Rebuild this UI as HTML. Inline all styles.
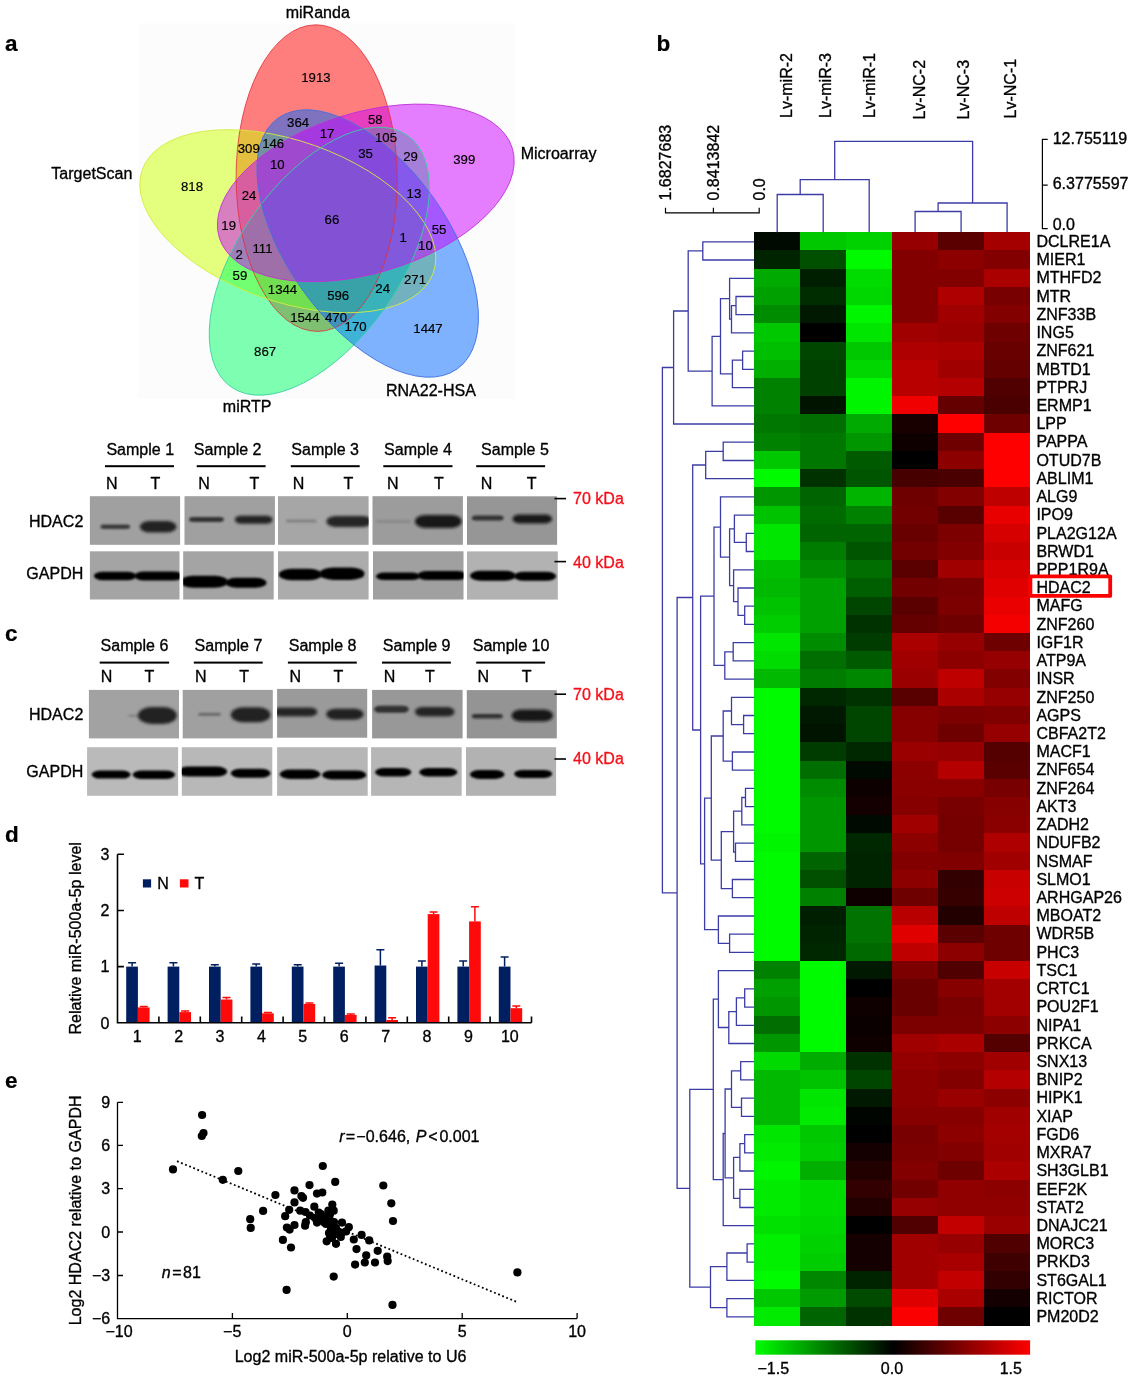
<!DOCTYPE html>
<html lang="en"><head><meta charset="utf-8"><title>Figure</title>
<style>
html,body{margin:0;padding:0;background:#fff;}
svg{display:block;font-family:"Liberation Sans", Arial, Helvetica, sans-serif;}
text{fill:#000;stroke:#000;stroke-width:0.33px;stroke-linejoin:round;}
.t16{font-size:16.05px;}
.t13{font-size:13.2px;stroke-width:0.18px;}
.pl{font-size:22.5px;font-weight:bold;stroke-width:0.2px;}
.red{fill:#f5101a;stroke:#f5101a;}
.den{fill:none;stroke:#3c3ca6;stroke-width:1.3;}
</style></head><body>
<svg width="1132" height="1382" viewBox="0 0 1132 1382">
<defs>
<filter id="b1" x="-20%" y="-60%" width="140%" height="220%"><feGaussianBlur stdDeviation="1.1"/></filter>
<filter id="b2" x="-20%" y="-60%" width="140%" height="220%"><feGaussianBlur stdDeviation="1.6"/></filter>
<linearGradient id="cbar" x1="0" y1="0" x2="1" y2="0"><stop offset="0" stop-color="#00ff00"/><stop offset="0.5" stop-color="#000000"/><stop offset="1" stop-color="#ff0000"/></linearGradient>
</defs>
<rect width="1132" height="1382" fill="#fff"/>

<text class="pl" x="5" y="50.7">a</text>
<text class="pl" x="656.5" y="50.5">b</text>
<text class="pl" x="5" y="641">c</text>
<text class="pl" x="5" y="842.2">d</text>
<text class="pl" x="5" y="1087.7">e</text>
<g id="venn">
<rect x="138" y="23.5" width="377" height="375" fill="#fcfcfc"/>
<ellipse cx="316.7" cy="178.1" rx="80.6" ry="153.3" transform="rotate(-0.37 316.7 178.1)" fill="#ff0000" fill-opacity="0.5" stroke="none"/>
<ellipse cx="287.8" cy="221.2" rx="80.3" ry="154.4" transform="rotate(289.47 287.8 221.2)" fill="#ccff00" fill-opacity="0.5" stroke="none"/>
<ellipse cx="319.3" cy="261.2" rx="80.6" ry="153.6" transform="rotate(215.01 319.3 261.2)" fill="#00ff66" fill-opacity="0.5" stroke="none"/>
<ellipse cx="367.7" cy="243.5" rx="80.1" ry="154.1" transform="rotate(144.45 367.7 243.5)" fill="#0066ff" fill-opacity="0.5" stroke="none"/>
<ellipse cx="365.8" cy="192.9" rx="80.3" ry="153.2" transform="rotate(73.09 365.8 192.9)" fill="#cc00ff" fill-opacity="0.5" stroke="none"/>
<ellipse cx="316.7" cy="178.1" rx="80.6" ry="153.3" transform="rotate(-0.37 316.7 178.1)" fill="none" stroke="#e0303c" stroke-width="0.9" stroke-opacity="0.9"/>
<ellipse cx="287.8" cy="221.2" rx="80.3" ry="154.4" transform="rotate(289.47 287.8 221.2)" fill="none" stroke="#d4ec40" stroke-width="0.9" stroke-opacity="0.9"/>
<ellipse cx="319.3" cy="261.2" rx="80.6" ry="153.6" transform="rotate(215.01 319.3 261.2)" fill="none" stroke="#38d0a0" stroke-width="0.9" stroke-opacity="0.9"/>
<ellipse cx="367.7" cy="243.5" rx="80.1" ry="154.1" transform="rotate(144.45 367.7 243.5)" fill="none" stroke="#4070e0" stroke-width="0.9" stroke-opacity="0.9"/>
<ellipse cx="365.8" cy="192.9" rx="80.3" ry="153.2" transform="rotate(73.09 365.8 192.9)" fill="none" stroke="#c030d8" stroke-width="0.9" stroke-opacity="0.9"/>
<text class="t13" text-anchor="middle" x="315.9" y="81.9">1913</text>
<text class="t13" text-anchor="middle" x="298.1" y="127.1">364</text>
<text class="t13" text-anchor="middle" x="375.3" y="124.2">58</text>
<text class="t13" text-anchor="middle" x="327.1" y="138.3">17</text>
<text class="t13" text-anchor="middle" x="386.0" y="142.0">105</text>
<text class="t13" text-anchor="middle" x="248.8" y="153.1">309</text>
<text class="t13" text-anchor="middle" x="273.2" y="147.6">146</text>
<text class="t13" text-anchor="middle" x="365.6" y="157.6">35</text>
<text class="t13" text-anchor="middle" x="410.5" y="160.5">29</text>
<text class="t13" text-anchor="middle" x="464.3" y="164.3">399</text>
<text class="t13" text-anchor="middle" x="277.3" y="169.1">10</text>
<text class="t13" text-anchor="middle" x="192.0" y="191.3">818</text>
<text class="t13" text-anchor="middle" x="249.1" y="199.5">24</text>
<text class="t13" text-anchor="middle" x="413.9" y="197.6">13</text>
<text class="t13" text-anchor="middle" x="331.9" y="224.4">66</text>
<text class="t13" text-anchor="middle" x="228.7" y="229.9">19</text>
<text class="t13" text-anchor="middle" x="439.1" y="233.6">55</text>
<text class="t13" text-anchor="middle" x="403.1" y="242.2">1</text>
<text class="t13" text-anchor="middle" x="425.4" y="250.3">10</text>
<text class="t13" text-anchor="middle" x="239.1" y="258.9">2</text>
<text class="t13" text-anchor="middle" x="262.5" y="253.3">111</text>
<text class="t13" text-anchor="middle" x="239.9" y="280.0">59</text>
<text class="t13" text-anchor="middle" x="415.0" y="283.7">271</text>
<text class="t13" text-anchor="middle" x="282.5" y="294.1">1344</text>
<text class="t13" text-anchor="middle" x="382.7" y="293.0">24</text>
<text class="t13" text-anchor="middle" x="338.2" y="299.7">596</text>
<text class="t13" text-anchor="middle" x="304.8" y="322.0">1544</text>
<text class="t13" text-anchor="middle" x="336.0" y="322.0">470</text>
<text class="t13" text-anchor="middle" x="355.6" y="330.5">170</text>
<text class="t13" text-anchor="middle" x="428.0" y="333.1">1447</text>
<text class="t13" text-anchor="middle" x="265.1" y="356.1">867</text>
<text class="t16" x="285.7" y="17.5">miRanda</text>
<text class="t16" x="520.7" y="158.6">Microarray</text>
<text class="t16" x="51.3" y="179">TargetScan</text>
<text class="t16" x="385.9" y="396.1">RNA22-HSA</text>
<text class="t16" x="222.8" y="411.9">miRTP</text>
</g>
<g id="blots">
<clipPath id="cp1"><rect x="89.9" y="496.2" width="90.2" height="48.6"/></clipPath>
<rect x="89.9" y="496.2" width="90.2" height="48.6" fill="rgb(160,160,160)"/>
<g clip-path="url(#cp1)">
<rect x="100.5" y="524.5" width="29.6" height="4.5" rx="3.6" ry="2.2" fill="#202020" fill-opacity="0.8" filter="url(#b1)"/>
<rect x="139.8" y="521.0" width="36.7" height="11.5" rx="9.2" ry="5.8" fill="#161616" fill-opacity="0.92" filter="url(#b2)"/>
</g>
<clipPath id="cp2"><rect x="184.5" y="496.2" width="90.4" height="48.6"/></clipPath>
<rect x="184.5" y="496.2" width="90.4" height="48.6" fill="rgb(160,160,160)"/>
<g clip-path="url(#cp2)">
<rect x="189.2" y="517.1" width="34.5" height="4.8" rx="3.8" ry="2.4" fill="#202020" fill-opacity="0.85" filter="url(#b1)"/>
<rect x="234.8" y="515.7" width="37.8" height="8.0" rx="6.4" ry="4.0" fill="#141414" fill-opacity="0.92" filter="url(#b2)"/>
</g>
<clipPath id="cp3"><rect x="278" y="496.2" width="90.6" height="48.6"/></clipPath>
<rect x="278" y="496.2" width="90.6" height="48.6" fill="rgb(166,166,166)"/>
<g clip-path="url(#cp3)">
<rect x="285.9" y="519.4" width="30.9" height="3.0" rx="2.5" ry="1.5" fill="#404040" fill-opacity="0.35" filter="url(#b1)"/>
<rect x="326.5" y="515.9" width="45.5" height="11.0" rx="8.8" ry="5.5" fill="#161616" fill-opacity="0.9" filter="url(#b2)"/>
</g>
<clipPath id="cp4"><rect x="372.5" y="496.2" width="90.4" height="48.6"/></clipPath>
<rect x="372.5" y="496.2" width="90.4" height="48.6" fill="rgb(156,156,156)"/>
<g clip-path="url(#cp4)">
<rect x="376.0" y="520.1" width="35.3" height="2.5" rx="2.5" ry="1.2" fill="#404040" fill-opacity="0.22" filter="url(#b1)"/>
<rect x="414.9" y="514.9" width="46.8" height="13.0" rx="10.4" ry="6.5" fill="#121212" fill-opacity="0.93" filter="url(#b2)"/>
</g>
<clipPath id="cp5"><rect x="467" y="496.3" width="90.1" height="48.5"/></clipPath>
<rect x="467" y="496.3" width="90.1" height="48.5" fill="rgb(150,150,150)"/>
<g clip-path="url(#cp5)">
<rect x="471.8" y="515.5" width="31.8" height="5.0" rx="4.0" ry="2.5" fill="#1c1c1c" fill-opacity="0.8" filter="url(#b1)"/>
<rect x="512.4" y="514.4" width="39.8" height="9.0" rx="7.2" ry="4.5" fill="#101010" fill-opacity="0.92" filter="url(#b2)"/>
</g>
<clipPath id="cp6"><rect x="89.9" y="551.3" width="89.6" height="48.2"/></clipPath>
<rect x="89.9" y="551.3" width="89.6" height="48.2" fill="rgb(164,164,164)"/>
<g clip-path="url(#cp6)">
<rect x="93.8" y="571.8" width="42.6" height="8.5" rx="9.4" ry="4.2" fill="#000" fill-opacity="1.0" filter="url(#b1)"/>
<rect x="134.4" y="571.5" width="48.6" height="9.0" rx="9.9" ry="4.5" fill="#000" fill-opacity="1.0" filter="url(#b1)"/>
</g>
<clipPath id="cp7"><rect x="183.2" y="551.3" width="90.5" height="48.2"/></clipPath>
<rect x="183.2" y="551.3" width="90.5" height="48.2" fill="rgb(164,164,164)"/>
<g clip-path="url(#cp7)">
<rect x="180.0" y="575.7" width="48.0" height="12.0" rx="13.2" ry="6.0" fill="#000" fill-opacity="1.0" filter="url(#b1)"/>
<rect x="225.5" y="577.8" width="41.1" height="10.0" rx="11.0" ry="5.0" fill="#000" fill-opacity="1.0" filter="url(#b1)"/>
</g>
<clipPath id="cp8"><rect x="278" y="551.3" width="90.6" height="48.2"/></clipPath>
<rect x="278" y="551.3" width="90.6" height="48.2" fill="rgb(172,172,172)"/>
<g clip-path="url(#cp8)">
<rect x="278.8" y="568.8" width="43.2" height="11.5" rx="12.7" ry="5.8" fill="#000" fill-opacity="1.0" filter="url(#b1)"/>
<rect x="319.5" y="567.4" width="45.0" height="12.5" rx="13.8" ry="6.2" fill="#000" fill-opacity="1.0" filter="url(#b1)"/>
</g>
<clipPath id="cp9"><rect x="373" y="551.3" width="90.5" height="48.2"/></clipPath>
<rect x="373" y="551.3" width="90.5" height="48.2" fill="rgb(160,160,160)"/>
<g clip-path="url(#cp9)">
<rect x="376.0" y="572.6" width="44.0" height="7.5" rx="8.2" ry="3.8" fill="#000" fill-opacity="1.0" filter="url(#b1)"/>
<rect x="417.5" y="571.0" width="49.5" height="9.0" rx="9.9" ry="4.5" fill="#000" fill-opacity="1.0" filter="url(#b1)"/>
</g>
<clipPath id="cp10"><rect x="467" y="551.4" width="90.8" height="48.2"/></clipPath>
<rect x="467" y="551.4" width="90.8" height="48.2" fill="rgb(178,178,178)"/>
<g clip-path="url(#cp10)">
<rect x="470.0" y="570.8" width="46.0" height="10.0" rx="11.0" ry="5.0" fill="#000" fill-opacity="1.0" filter="url(#b1)"/>
<rect x="514.0" y="571.8" width="42.1" height="9.0" rx="9.9" ry="4.5" fill="#000" fill-opacity="1.0" filter="url(#b1)"/>
</g>
<clipPath id="cp11"><rect x="88.9" y="689.9" width="90.1" height="48.5"/></clipPath>
<rect x="88.9" y="689.9" width="90.1" height="48.5" fill="rgb(162,162,162)"/>
<g clip-path="url(#cp11)">
<rect x="128.0" y="714.4" width="14.0" height="2.5" rx="2.5" ry="1.2" fill="#404040" fill-opacity="0.3" filter="url(#b1)"/>
<rect x="138.0" y="707.1" width="38.9" height="17.0" rx="13.6" ry="8.5" fill="#181818" fill-opacity="0.92" filter="url(#b2)"/>
</g>
<clipPath id="cp12"><rect x="182.7" y="689.9" width="90.1" height="48.5"/></clipPath>
<rect x="182.7" y="689.9" width="90.1" height="48.5" fill="rgb(160,160,160)"/>
<g clip-path="url(#cp12)">
<rect x="198.0" y="712.7" width="23.0" height="3.0" rx="2.5" ry="1.5" fill="#303030" fill-opacity="0.5" filter="url(#b1)"/>
<rect x="230.8" y="707.2" width="39.7" height="15.0" rx="12.0" ry="7.5" fill="#181818" fill-opacity="0.92" filter="url(#b2)"/>
</g>
<clipPath id="cp13"><rect x="277.1" y="688.9" width="90.1" height="48.8"/></clipPath>
<rect x="277.1" y="688.9" width="90.1" height="48.8" fill="rgb(154,154,154)"/>
<g clip-path="url(#cp13)">
<rect x="273.0" y="707.4" width="44.3" height="9.0" rx="7.2" ry="4.5" fill="#181818" fill-opacity="0.9" filter="url(#b2)"/>
<rect x="326.2" y="708.7" width="37.4" height="11.0" rx="8.8" ry="5.5" fill="#181818" fill-opacity="0.92" filter="url(#b2)"/>
</g>
<clipPath id="cp14"><rect x="372.1" y="689.9" width="90.5" height="48.5"/></clipPath>
<rect x="372.1" y="689.9" width="90.5" height="48.5" fill="rgb(152,152,152)"/>
<g clip-path="url(#cp14)">
<rect x="374.2" y="705.7" width="34.5" height="7.0" rx="5.6" ry="3.5" fill="#1c1c1c" fill-opacity="0.85" filter="url(#b1)"/>
<rect x="414.9" y="707.1" width="39.7" height="9.5" rx="7.6" ry="4.8" fill="#181818" fill-opacity="0.9" filter="url(#b2)"/>
</g>
<clipPath id="cp15"><rect x="466.8" y="690.1" width="90.0" height="48.3"/></clipPath>
<rect x="466.8" y="690.1" width="90.0" height="48.3" fill="rgb(148,148,148)"/>
<g clip-path="url(#cp15)">
<rect x="471.8" y="714.0" width="30.9" height="4.5" rx="3.6" ry="2.2" fill="#1c1c1c" fill-opacity="0.8" filter="url(#b1)"/>
<rect x="511.5" y="709.4" width="41.6" height="12.0" rx="9.6" ry="6.0" fill="#121212" fill-opacity="0.93" filter="url(#b2)"/>
</g>
<clipPath id="cp16"><rect x="87.1" y="747.2" width="91.0" height="48.6"/></clipPath>
<rect x="87.1" y="747.2" width="91.0" height="48.6" fill="rgb(186,186,186)"/>
<g clip-path="url(#cp16)">
<rect x="91.7" y="770.6" width="38.9" height="8.0" rx="8.8" ry="4.0" fill="#000" fill-opacity="1.0" filter="url(#b1)"/>
<rect x="132.7" y="770.4" width="42.4" height="8.5" rx="9.4" ry="4.2" fill="#000" fill-opacity="1.0" filter="url(#b1)"/>
</g>
<clipPath id="cp17"><rect x="181.8" y="747.2" width="90.5" height="48.6"/></clipPath>
<rect x="181.8" y="747.2" width="90.5" height="48.6" fill="rgb(184,184,184)"/>
<g clip-path="url(#cp17)">
<rect x="178.0" y="766.6" width="49.2" height="10.0" rx="11.0" ry="5.0" fill="#000" fill-opacity="1.0" filter="url(#b1)"/>
<rect x="230.8" y="768.8" width="39.7" height="9.0" rx="9.9" ry="4.5" fill="#000" fill-opacity="1.0" filter="url(#b1)"/>
</g>
<clipPath id="cp18"><rect x="277.1" y="747.2" width="90.6" height="48.6"/></clipPath>
<rect x="277.1" y="747.2" width="90.6" height="48.6" fill="rgb(182,182,182)"/>
<g clip-path="url(#cp18)">
<rect x="279.7" y="769.5" width="40.7" height="9.5" rx="10.5" ry="4.8" fill="#000" fill-opacity="1.0" filter="url(#b1)"/>
<rect x="322.1" y="770.4" width="44.2" height="9.0" rx="9.9" ry="4.5" fill="#000" fill-opacity="1.0" filter="url(#b1)"/>
</g>
<clipPath id="cp19"><rect x="371.1" y="747.2" width="90.6" height="48.6"/></clipPath>
<rect x="371.1" y="747.2" width="90.6" height="48.6" fill="rgb(182,182,182)"/>
<g clip-path="url(#cp19)">
<rect x="375.1" y="768.0" width="36.2" height="8.5" rx="9.4" ry="4.2" fill="#000" fill-opacity="1.0" filter="url(#b1)"/>
<rect x="419.3" y="768.0" width="38.0" height="8.5" rx="9.4" ry="4.2" fill="#000" fill-opacity="1.0" filter="url(#b1)"/>
</g>
<clipPath id="cp20"><rect x="466" y="747.2" width="90.1" height="48.6"/></clipPath>
<rect x="466" y="747.2" width="90.1" height="48.6" fill="rgb(178,178,178)"/>
<g clip-path="url(#cp20)">
<rect x="470.0" y="769.9" width="34.5" height="9.0" rx="9.9" ry="4.5" fill="#000" fill-opacity="1.0" filter="url(#b1)"/>
<rect x="514.2" y="769.9" width="38.0" height="8.0" rx="8.8" ry="4.0" fill="#000" fill-opacity="1.0" filter="url(#b1)"/>
</g>
<text class="t16" x="106.4" y="454.6">Sample 1</text>
<rect x="105" y="465.20" width="69.0" height="2" fill="#000"/>
<text class="t16" x="106.0" y="488.5">N</text>
<text class="t16" x="150.4" y="488.5">T</text>
<text class="t16" x="193.8" y="454.6">Sample 2</text>
<rect x="196.7" y="465.20" width="68.9" height="2" fill="#000"/>
<text class="t16" x="198.2" y="488.5">N</text>
<text class="t16" x="249.4" y="488.5">T</text>
<text class="t16" x="291.3" y="454.6">Sample 3</text>
<rect x="290.8" y="465.20" width="68.9" height="2" fill="#000"/>
<text class="t16" x="292.8" y="488.5">N</text>
<text class="t16" x="343.5" y="488.5">T</text>
<text class="t16" x="384.1" y="454.6">Sample 4</text>
<rect x="383.3" y="465.20" width="69.2" height="2" fill="#000"/>
<text class="t16" x="386.9" y="488.5">N</text>
<text class="t16" x="434.1" y="488.5">T</text>
<text class="t16" x="481.1" y="454.6">Sample 5</text>
<rect x="476.2" y="465.20" width="68.9" height="2" fill="#000"/>
<text class="t16" x="480.7" y="488.5">N</text>
<text class="t16" x="526.8" y="488.5">T</text>
<text class="t16" x="100.6" y="650.7">Sample 6</text>
<rect x="99.7" y="661.60" width="69.4" height="2" fill="#000"/>
<text class="t16" x="100.8" y="682">N</text>
<text class="t16" x="144.6" y="682">T</text>
<text class="t16" x="194.6" y="650.7">Sample 7</text>
<rect x="193.8" y="661.60" width="68.9" height="2" fill="#000"/>
<text class="t16" x="195.0" y="682">N</text>
<text class="t16" x="239.3" y="682">T</text>
<text class="t16" x="288.7" y="650.7">Sample 8</text>
<rect x="287.9" y="661.60" width="68.9" height="2" fill="#000"/>
<text class="t16" x="289.6" y="682">N</text>
<text class="t16" x="333.4" y="682">T</text>
<text class="t16" x="382.8" y="650.7">Sample 9</text>
<rect x="382" y="661.60" width="68.9" height="2" fill="#000"/>
<text class="t16" x="383.7" y="682">N</text>
<text class="t16" x="424.9" y="682">T</text>
<text class="t16" x="472.7" y="650.7">Sample 10</text>
<rect x="476.2" y="661.60" width="68.9" height="2" fill="#000"/>
<text class="t16" x="477.6" y="682">N</text>
<text class="t16" x="521.8" y="682">T</text>
<text class="t16" text-anchor="end" x="83.3" y="526.8">HDAC2</text>
<text class="t16" text-anchor="end" x="83.3" y="578.7">GAPDH</text>
<text class="t16" text-anchor="end" x="83.3" y="719.7">HDAC2</text>
<text class="t16" text-anchor="end" x="83.3" y="776.9">GAPDH</text>
<rect x="554.5" y="497.8" width="11.5" height="1.6" fill="#000"/>
<text class="t16 red" x="573" y="503.9">70 kDa</text>
<rect x="554.5" y="560.8" width="11.5" height="1.6" fill="#000"/>
<text class="t16 red" x="573" y="567.5">40 kDa</text>
<rect x="554.5" y="693.4" width="11.5" height="1.6" fill="#000"/>
<text class="t16 red" x="573" y="699.8">70 kDa</text>
<rect x="554.5" y="758.2" width="11.5" height="1.6" fill="#000"/>
<text class="t16 red" x="573" y="764.2">40 kDa</text>
</g>
<g id="bar">
<rect x="126.2" y="966.6" width="11.7" height="56.2" fill="#001f60"/>
<path d="M132.1 966.6V962.7M128.1 962.7H136.1" stroke="#001f60" stroke-width="1.5" fill="none"/>
<rect x="137.9" y="1007.4" width="11.7" height="15.4" fill="#ff0a0a"/>
<path d="M143.8 1007.4V1006.5M139.8 1006.5H147.8" stroke="#ff0a0a" stroke-width="1.5" fill="none"/>
<rect x="167.6" y="966.6" width="11.7" height="56.2" fill="#001f60"/>
<path d="M173.4 966.6V962.7M169.4 962.7H177.4" stroke="#001f60" stroke-width="1.5" fill="none"/>
<rect x="179.3" y="1012.1" width="11.7" height="10.7" fill="#ff0a0a"/>
<path d="M185.1 1012.1V1011.0M181.1 1011.0H189.1" stroke="#ff0a0a" stroke-width="1.5" fill="none"/>
<rect x="209.0" y="966.6" width="11.7" height="56.2" fill="#001f60"/>
<path d="M214.8 966.6V964.7M210.8 964.7H218.8" stroke="#001f60" stroke-width="1.5" fill="none"/>
<rect x="220.7" y="999.5" width="11.7" height="23.3" fill="#ff0a0a"/>
<path d="M226.5 999.5V997.5M222.5 997.5H230.5" stroke="#ff0a0a" stroke-width="1.5" fill="none"/>
<rect x="250.4" y="966.6" width="11.7" height="56.2" fill="#001f60"/>
<path d="M256.2 966.6V964.1M252.2 964.1H260.2" stroke="#001f60" stroke-width="1.5" fill="none"/>
<rect x="262.1" y="1013.3" width="11.7" height="9.5" fill="#ff0a0a"/>
<path d="M267.9 1013.3V1012.4M263.9 1012.4H271.9" stroke="#ff0a0a" stroke-width="1.5" fill="none"/>
<rect x="291.8" y="966.6" width="11.7" height="56.2" fill="#001f60"/>
<path d="M297.7 966.6V964.7M293.7 964.7H301.7" stroke="#001f60" stroke-width="1.5" fill="none"/>
<rect x="303.5" y="1003.9" width="11.7" height="18.9" fill="#ff0a0a"/>
<path d="M309.4 1003.9V1003.1M305.4 1003.1H313.4" stroke="#ff0a0a" stroke-width="1.5" fill="none"/>
<rect x="333.2" y="966.6" width="11.7" height="56.2" fill="#001f60"/>
<path d="M339.1 966.6V963.3M335.1 963.3H343.1" stroke="#001f60" stroke-width="1.5" fill="none"/>
<rect x="344.9" y="1014.9" width="11.7" height="7.9" fill="#ff0a0a"/>
<path d="M350.8 1014.9V1014.1M346.8 1014.1H354.8" stroke="#ff0a0a" stroke-width="1.5" fill="none"/>
<rect x="374.6" y="965.5" width="11.7" height="57.3" fill="#001f60"/>
<path d="M380.4 965.5V949.8M376.4 949.8H384.4" stroke="#001f60" stroke-width="1.5" fill="none"/>
<rect x="386.3" y="1020.0" width="11.7" height="2.8" fill="#ff0a0a"/>
<path d="M392.1 1020.0V1017.7M388.1 1017.7H396.1" stroke="#ff0a0a" stroke-width="1.5" fill="none"/>
<rect x="416.0" y="966.6" width="11.7" height="56.2" fill="#001f60"/>
<path d="M421.9 966.6V961.0M417.9 961.0H425.9" stroke="#001f60" stroke-width="1.5" fill="none"/>
<rect x="427.7" y="914.1" width="11.7" height="108.7" fill="#ff0a0a"/>
<path d="M433.6 914.1V912.1M429.6 912.1H437.6" stroke="#ff0a0a" stroke-width="1.5" fill="none"/>
<rect x="457.4" y="966.6" width="11.7" height="56.2" fill="#001f60"/>
<path d="M463.2 966.6V961.0M459.2 961.0H467.2" stroke="#001f60" stroke-width="1.5" fill="none"/>
<rect x="469.1" y="921.4" width="11.7" height="101.4" fill="#ff0a0a"/>
<path d="M474.9 921.4V906.8M470.9 906.8H478.9" stroke="#ff0a0a" stroke-width="1.5" fill="none"/>
<rect x="498.8" y="966.6" width="11.7" height="56.2" fill="#001f60"/>
<path d="M504.6 966.6V957.1M500.6 957.1H508.6" stroke="#001f60" stroke-width="1.5" fill="none"/>
<rect x="510.5" y="1008.2" width="11.7" height="14.6" fill="#ff0a0a"/>
<path d="M516.3 1008.2V1005.9M512.3 1005.9H520.3" stroke="#ff0a0a" stroke-width="1.5" fill="none"/>
<path d="M117.5 854.3V1022.8H531.5M117.5 1022.8h6.4M117.5 966.6h6.4M117.5 910.5h6.4M117.5 854.3h6.4M158.9 1022.8v-6.4M200.3 1022.8v-6.4M241.7 1022.8v-6.4M283.1 1022.8v-6.4M324.5 1022.8v-6.4M365.9 1022.8v-6.4M407.3 1022.8v-6.4M448.7 1022.8v-6.4M490.1 1022.8v-6.4M531.5 1022.8v-6.4" stroke="#000" stroke-width="1.6" fill="none"/>
<text class="t16" text-anchor="end" x="109.5" y="1028.6">0</text>
<text class="t16" text-anchor="end" x="109.5" y="972.4">1</text>
<text class="t16" text-anchor="end" x="109.5" y="916.3">2</text>
<text class="t16" text-anchor="end" x="109.5" y="860.1">3</text>
<text class="t16" text-anchor="middle" x="137.2" y="1041.8">1</text>
<text class="t16" text-anchor="middle" x="178.6" y="1041.8">2</text>
<text class="t16" text-anchor="middle" x="220.0" y="1041.8">3</text>
<text class="t16" text-anchor="middle" x="261.4" y="1041.8">4</text>
<text class="t16" text-anchor="middle" x="302.8" y="1041.8">5</text>
<text class="t16" text-anchor="middle" x="344.2" y="1041.8">6</text>
<text class="t16" text-anchor="middle" x="385.6" y="1041.8">7</text>
<text class="t16" text-anchor="middle" x="427.0" y="1041.8">8</text>
<text class="t16" text-anchor="middle" x="468.4" y="1041.8">9</text>
<text class="t16" text-anchor="middle" x="509.8" y="1041.8">10</text>
<text class="t16" text-anchor="middle" transform="translate(80.8 938.3) rotate(-90)">Relative miR-500a-5p level</text>
<rect x="142.9" y="879.3" width="8.2" height="8.2" fill="#001f60"/><text class="t16" x="157.2" y="888.7">N</text>
<rect x="179.9" y="879.3" width="8.6" height="8.2" fill="#ff0a0a"/><text class="t16" x="194.6" y="888.7">T</text>
</g>
<g id="scatter">
<path d="M117.5 1102.3V1318.6H577.1M117.5 1102.3h5.5M117.5 1145.4h5.5M117.5 1188.6h5.5M117.5 1232h5.5M117.5 1275.5h5.5M117.5 1318.6h5.5M232.4 1318.6v-5.5M347.3 1318.6v-5.5M462.2 1318.6v-5.5M577.1 1318.6v-5.5" stroke="#000" stroke-width="1.3" fill="none"/>
<text class="t16" text-anchor="end" x="110.2" y="1108.0">9</text>
<text class="t16" text-anchor="end" x="110.2" y="1151.1">6</text>
<text class="t16" text-anchor="end" x="110.2" y="1194.3">3</text>
<text class="t16" text-anchor="end" x="110.2" y="1237.7">0</text>
<text class="t16" text-anchor="end" x="110.2" y="1281.2">−3</text>
<text class="t16" text-anchor="end" x="110.2" y="1324.3">−6</text>
<text class="t16" text-anchor="middle" x="119" y="1337">−10</text>
<text class="t16" text-anchor="middle" x="232.2" y="1337">−5</text>
<text class="t16" text-anchor="middle" x="347.3" y="1337">0</text>
<text class="t16" text-anchor="middle" x="462.2" y="1337">5</text>
<text class="t16" text-anchor="middle" x="577.1" y="1337">10</text>
<text class="t16" text-anchor="middle" transform="translate(80.8 1210.4) rotate(-90)">Log2 HDAC2 relative to GAPDH</text>
<text class="t16" x="234.7" y="1361.7">Log2 miR-500a-5p relative to U6</text>
<text class="t16" x="161.8" y="1278.1"><tspan font-style="italic">n</tspan><tspan dx="1.5">=</tspan><tspan dx="1.5">81</tspan></text>
<text class="t16" x="339.2" y="1142.3"><tspan font-style="italic">r</tspan><tspan dx="1.2">=</tspan><tspan dx="1.2">−0.646,</tspan><tspan dx="5.5" font-style="italic">P</tspan><tspan dx="1.8">&lt;</tspan><tspan dx="1.8">0.001</tspan></text>
<line x1="177" y1="1161.2" x2="516" y2="1301.6" stroke="#000" stroke-width="1.8" stroke-dasharray="1.8 2.6"/>
<circle cx="202.1" cy="1115.0" r="4.1"/>
<circle cx="203.5" cy="1133.0" r="4.1"/>
<circle cx="201.8" cy="1136.0" r="4.1"/>
<circle cx="173.0" cy="1169.4" r="4.1"/>
<circle cx="238.3" cy="1171.0" r="4.1"/>
<circle cx="222.8" cy="1179.8" r="4.1"/>
<circle cx="322.8" cy="1166.0" r="4.1"/>
<circle cx="335.2" cy="1181.9" r="4.1"/>
<circle cx="309.5" cy="1185.1" r="4.1"/>
<circle cx="294.5" cy="1190.4" r="4.1"/>
<circle cx="275.4" cy="1195.0" r="4.1"/>
<circle cx="317.0" cy="1193.6" r="4.1"/>
<circle cx="322.3" cy="1192.5" r="4.1"/>
<circle cx="301.4" cy="1196.1" r="4.1"/>
<circle cx="303.0" cy="1197.8" r="4.1"/>
<circle cx="294.5" cy="1202.4" r="4.1"/>
<circle cx="263.1" cy="1210.9" r="4.1"/>
<circle cx="289.2" cy="1209.8" r="4.1"/>
<circle cx="314.3" cy="1206.7" r="4.1"/>
<circle cx="332.3" cy="1204.5" r="4.1"/>
<circle cx="333.7" cy="1210.7" r="4.1"/>
<circle cx="328.4" cy="1210.7" r="4.1"/>
<circle cx="300.2" cy="1210.7" r="4.1"/>
<circle cx="305.5" cy="1212.0" r="4.1"/>
<circle cx="285.2" cy="1216.2" r="4.1"/>
<circle cx="309.9" cy="1215.5" r="4.1"/>
<circle cx="318.7" cy="1212.5" r="4.1"/>
<circle cx="319.6" cy="1217.3" r="4.1"/>
<circle cx="329.3" cy="1216.9" r="4.1"/>
<circle cx="250.2" cy="1219.2" r="4.1"/>
<circle cx="250.7" cy="1227.9" r="4.1"/>
<circle cx="294.5" cy="1225.0" r="4.1"/>
<circle cx="305.8" cy="1222.2" r="4.1"/>
<circle cx="305.1" cy="1225.7" r="4.1"/>
<circle cx="317.0" cy="1222.6" r="4.1"/>
<circle cx="324.0" cy="1222.2" r="4.1"/>
<circle cx="328.4" cy="1221.3" r="4.1"/>
<circle cx="286.9" cy="1227.5" r="4.1"/>
<circle cx="289.6" cy="1229.6" r="4.1"/>
<circle cx="333.7" cy="1226.6" r="4.1"/>
<circle cx="342.0" cy="1222.6" r="4.1"/>
<circle cx="348.8" cy="1227.2" r="4.1"/>
<circle cx="334.6" cy="1231.9" r="4.1"/>
<circle cx="341.7" cy="1232.8" r="4.1"/>
<circle cx="346.1" cy="1231.4" r="4.1"/>
<circle cx="330.2" cy="1236.3" r="4.1"/>
<circle cx="340.8" cy="1236.9" r="4.1"/>
<circle cx="326.7" cy="1241.3" r="4.1"/>
<circle cx="336.0" cy="1243.8" r="4.1"/>
<circle cx="282.9" cy="1239.9" r="4.1"/>
<circle cx="291.0" cy="1247.5" r="4.1"/>
<circle cx="333.7" cy="1276.6" r="4.1"/>
<circle cx="286.6" cy="1289.9" r="4.1"/>
<circle cx="383.3" cy="1185.5" r="4.1"/>
<circle cx="391.3" cy="1203.3" r="4.1"/>
<circle cx="393.0" cy="1221.0" r="4.1"/>
<circle cx="361.6" cy="1234.9" r="4.1"/>
<circle cx="353.8" cy="1239.5" r="4.1"/>
<circle cx="369.2" cy="1240.4" r="4.1"/>
<circle cx="356.5" cy="1249.1" r="4.1"/>
<circle cx="377.7" cy="1250.8" r="4.1"/>
<circle cx="366.2" cy="1255.4" r="4.1"/>
<circle cx="387.2" cy="1256.7" r="4.1"/>
<circle cx="387.7" cy="1261.1" r="4.1"/>
<circle cx="364.8" cy="1262.5" r="4.1"/>
<circle cx="375.0" cy="1262.5" r="4.1"/>
<circle cx="355.1" cy="1264.6" r="4.1"/>
<circle cx="392.5" cy="1304.9" r="4.1"/>
<circle cx="517.4" cy="1272.4" r="4.1"/>
<circle cx="322" cy="1219" r="4.1"/>
<circle cx="326" cy="1224" r="4.1"/>
<circle cx="331" cy="1229" r="4.1"/>
<circle cx="334" cy="1222" r="4.1"/>
<circle cx="330" cy="1214" r="4.1"/>
<circle cx="321" cy="1214" r="4.1"/>
<circle cx="337" cy="1234" r="4.1"/>
<circle cx="332" cy="1238" r="4.1"/>
<circle cx="315" cy="1218" r="4.1"/>
<circle cx="326" cy="1217" r="4.1"/>
<circle cx="336" cy="1228" r="4.1"/>
<circle cx="329" cy="1233" r="4.1"/>
</g>
<g id="heat">
<g shape-rendering="crispEdges">
<rect x="754.20" y="232.20" width="46.28" height="18.52" fill="rgb(0,10,0)"/>
<rect x="800.18" y="232.20" width="46.28" height="18.52" fill="rgb(0,200,0)"/>
<rect x="846.17" y="232.20" width="46.28" height="18.52" fill="rgb(0,210,0)"/>
<rect x="892.15" y="232.20" width="46.28" height="18.52" fill="rgb(150,0,0)"/>
<rect x="938.13" y="232.20" width="46.28" height="18.52" fill="rgb(90,0,0)"/>
<rect x="984.12" y="232.20" width="46.28" height="18.52" fill="rgb(165,0,0)"/>
<text class="t16" x="1036.4" y="247.0">DCLRE1A</text>
<rect x="754.20" y="250.42" width="46.28" height="18.52" fill="rgb(0,35,0)"/>
<rect x="800.18" y="250.42" width="46.28" height="18.52" fill="rgb(0,80,0)"/>
<rect x="846.17" y="250.42" width="46.28" height="18.52" fill="rgb(0,250,0)"/>
<rect x="892.15" y="250.42" width="46.28" height="18.52" fill="rgb(130,0,0)"/>
<rect x="938.13" y="250.42" width="46.28" height="18.52" fill="rgb(140,0,0)"/>
<rect x="984.12" y="250.42" width="46.28" height="18.52" fill="rgb(130,0,0)"/>
<text class="t16" x="1036.4" y="265.2">MIER1</text>
<rect x="754.20" y="268.64" width="46.28" height="18.52" fill="rgb(0,170,0)"/>
<rect x="800.18" y="268.64" width="46.28" height="18.52" fill="rgb(0,30,0)"/>
<rect x="846.17" y="268.64" width="46.28" height="18.52" fill="rgb(0,220,0)"/>
<rect x="892.15" y="268.64" width="46.28" height="18.52" fill="rgb(130,0,0)"/>
<rect x="938.13" y="268.64" width="46.28" height="18.52" fill="rgb(130,0,0)"/>
<rect x="984.12" y="268.64" width="46.28" height="18.52" fill="rgb(170,0,0)"/>
<text class="t16" x="1036.4" y="283.4">MTHFD2</text>
<rect x="754.20" y="286.86" width="46.28" height="18.52" fill="rgb(0,160,0)"/>
<rect x="800.18" y="286.86" width="46.28" height="18.52" fill="rgb(0,45,0)"/>
<rect x="846.17" y="286.86" width="46.28" height="18.52" fill="rgb(0,215,0)"/>
<rect x="892.15" y="286.86" width="46.28" height="18.52" fill="rgb(130,0,0)"/>
<rect x="938.13" y="286.86" width="46.28" height="18.52" fill="rgb(175,0,0)"/>
<rect x="984.12" y="286.86" width="46.28" height="18.52" fill="rgb(120,0,0)"/>
<text class="t16" x="1036.4" y="301.7">MTR</text>
<rect x="754.20" y="305.08" width="46.28" height="18.52" fill="rgb(0,140,0)"/>
<rect x="800.18" y="305.08" width="46.28" height="18.52" fill="rgb(0,25,0)"/>
<rect x="846.17" y="305.08" width="46.28" height="18.52" fill="rgb(0,245,0)"/>
<rect x="892.15" y="305.08" width="46.28" height="18.52" fill="rgb(130,0,0)"/>
<rect x="938.13" y="305.08" width="46.28" height="18.52" fill="rgb(160,0,0)"/>
<rect x="984.12" y="305.08" width="46.28" height="18.52" fill="rgb(130,0,0)"/>
<text class="t16" x="1036.4" y="319.9">ZNF33B</text>
<rect x="754.20" y="323.30" width="46.28" height="18.52" fill="rgb(0,200,0)"/>
<rect x="800.18" y="323.30" width="46.28" height="18.52" fill="rgb(0,0,0)"/>
<rect x="846.17" y="323.30" width="46.28" height="18.52" fill="rgb(0,230,0)"/>
<rect x="892.15" y="323.30" width="46.28" height="18.52" fill="rgb(160,0,0)"/>
<rect x="938.13" y="323.30" width="46.28" height="18.52" fill="rgb(155,0,0)"/>
<rect x="984.12" y="323.30" width="46.28" height="18.52" fill="rgb(110,0,0)"/>
<text class="t16" x="1036.4" y="338.1">ING5</text>
<rect x="754.20" y="341.52" width="46.28" height="18.52" fill="rgb(0,190,0)"/>
<rect x="800.18" y="341.52" width="46.28" height="18.52" fill="rgb(0,70,0)"/>
<rect x="846.17" y="341.52" width="46.28" height="18.52" fill="rgb(0,200,0)"/>
<rect x="892.15" y="341.52" width="46.28" height="18.52" fill="rgb(175,0,0)"/>
<rect x="938.13" y="341.52" width="46.28" height="18.52" fill="rgb(170,0,0)"/>
<rect x="984.12" y="341.52" width="46.28" height="18.52" fill="rgb(105,0,0)"/>
<text class="t16" x="1036.4" y="356.3">ZNF621</text>
<rect x="754.20" y="359.74" width="46.28" height="18.52" fill="rgb(0,175,0)"/>
<rect x="800.18" y="359.74" width="46.28" height="18.52" fill="rgb(0,65,0)"/>
<rect x="846.17" y="359.74" width="46.28" height="18.52" fill="rgb(0,215,0)"/>
<rect x="892.15" y="359.74" width="46.28" height="18.52" fill="rgb(185,0,0)"/>
<rect x="938.13" y="359.74" width="46.28" height="18.52" fill="rgb(160,0,0)"/>
<rect x="984.12" y="359.74" width="46.28" height="18.52" fill="rgb(100,0,0)"/>
<text class="t16" x="1036.4" y="374.6">MBTD1</text>
<rect x="754.20" y="377.96" width="46.28" height="18.52" fill="rgb(0,130,0)"/>
<rect x="800.18" y="377.96" width="46.28" height="18.52" fill="rgb(0,65,0)"/>
<rect x="846.17" y="377.96" width="46.28" height="18.52" fill="rgb(0,245,0)"/>
<rect x="892.15" y="377.96" width="46.28" height="18.52" fill="rgb(185,0,0)"/>
<rect x="938.13" y="377.96" width="46.28" height="18.52" fill="rgb(180,0,0)"/>
<rect x="984.12" y="377.96" width="46.28" height="18.52" fill="rgb(80,0,0)"/>
<text class="t16" x="1036.4" y="392.8">PTPRJ</text>
<rect x="754.20" y="396.18" width="46.28" height="18.52" fill="rgb(0,130,0)"/>
<rect x="800.18" y="396.18" width="46.28" height="18.52" fill="rgb(0,20,0)"/>
<rect x="846.17" y="396.18" width="46.28" height="18.52" fill="rgb(0,245,0)"/>
<rect x="892.15" y="396.18" width="46.28" height="18.52" fill="rgb(240,0,0)"/>
<rect x="938.13" y="396.18" width="46.28" height="18.52" fill="rgb(100,0,0)"/>
<rect x="984.12" y="396.18" width="46.28" height="18.52" fill="rgb(75,0,0)"/>
<text class="t16" x="1036.4" y="411.0">ERMP1</text>
<rect x="754.20" y="414.40" width="46.28" height="18.52" fill="rgb(0,120,0)"/>
<rect x="800.18" y="414.40" width="46.28" height="18.52" fill="rgb(0,110,0)"/>
<rect x="846.17" y="414.40" width="46.28" height="18.52" fill="rgb(0,170,0)"/>
<rect x="892.15" y="414.40" width="46.28" height="18.52" fill="rgb(25,0,0)"/>
<rect x="938.13" y="414.40" width="46.28" height="18.52" fill="rgb(255,0,0)"/>
<rect x="984.12" y="414.40" width="46.28" height="18.52" fill="rgb(110,0,0)"/>
<text class="t16" x="1036.4" y="429.2">LPP</text>
<rect x="754.20" y="432.62" width="46.28" height="18.52" fill="rgb(0,130,0)"/>
<rect x="800.18" y="432.62" width="46.28" height="18.52" fill="rgb(0,120,0)"/>
<rect x="846.17" y="432.62" width="46.28" height="18.52" fill="rgb(0,150,0)"/>
<rect x="892.15" y="432.62" width="46.28" height="18.52" fill="rgb(15,0,0)"/>
<rect x="938.13" y="432.62" width="46.28" height="18.52" fill="rgb(110,0,0)"/>
<rect x="984.12" y="432.62" width="46.28" height="18.52" fill="rgb(255,0,0)"/>
<text class="t16" x="1036.4" y="447.4">PAPPA</text>
<rect x="754.20" y="450.84" width="46.28" height="18.52" fill="rgb(0,200,0)"/>
<rect x="800.18" y="450.84" width="46.28" height="18.52" fill="rgb(0,120,0)"/>
<rect x="846.17" y="450.84" width="46.28" height="18.52" fill="rgb(0,90,0)"/>
<rect x="892.15" y="450.84" width="46.28" height="18.52" fill="rgb(0,0,0)"/>
<rect x="938.13" y="450.84" width="46.28" height="18.52" fill="rgb(140,0,0)"/>
<rect x="984.12" y="450.84" width="46.28" height="18.52" fill="rgb(255,0,0)"/>
<text class="t16" x="1036.4" y="465.7">OTUD7B</text>
<rect x="754.20" y="469.06" width="46.28" height="18.52" fill="rgb(0,250,0)"/>
<rect x="800.18" y="469.06" width="46.28" height="18.52" fill="rgb(0,50,0)"/>
<rect x="846.17" y="469.06" width="46.28" height="18.52" fill="rgb(0,85,0)"/>
<rect x="892.15" y="469.06" width="46.28" height="18.52" fill="rgb(70,0,0)"/>
<rect x="938.13" y="469.06" width="46.28" height="18.52" fill="rgb(75,0,0)"/>
<rect x="984.12" y="469.06" width="46.28" height="18.52" fill="rgb(255,0,0)"/>
<text class="t16" x="1036.4" y="483.9">ABLIM1</text>
<rect x="754.20" y="487.28" width="46.28" height="18.52" fill="rgb(0,150,0)"/>
<rect x="800.18" y="487.28" width="46.28" height="18.52" fill="rgb(0,100,0)"/>
<rect x="846.17" y="487.28" width="46.28" height="18.52" fill="rgb(0,180,0)"/>
<rect x="892.15" y="487.28" width="46.28" height="18.52" fill="rgb(110,0,0)"/>
<rect x="938.13" y="487.28" width="46.28" height="18.52" fill="rgb(130,0,0)"/>
<rect x="984.12" y="487.28" width="46.28" height="18.52" fill="rgb(190,0,0)"/>
<text class="t16" x="1036.4" y="502.1">ALG9</text>
<rect x="754.20" y="505.50" width="46.28" height="18.52" fill="rgb(0,195,0)"/>
<rect x="800.18" y="505.50" width="46.28" height="18.52" fill="rgb(0,108,0)"/>
<rect x="846.17" y="505.50" width="46.28" height="18.52" fill="rgb(0,130,0)"/>
<rect x="892.15" y="505.50" width="46.28" height="18.52" fill="rgb(115,0,0)"/>
<rect x="938.13" y="505.50" width="46.28" height="18.52" fill="rgb(88,0,0)"/>
<rect x="984.12" y="505.50" width="46.28" height="18.52" fill="rgb(232,0,0)"/>
<text class="t16" x="1036.4" y="520.3">IPO9</text>
<rect x="754.20" y="523.72" width="46.28" height="18.52" fill="rgb(0,230,0)"/>
<rect x="800.18" y="523.72" width="46.28" height="18.52" fill="rgb(0,100,0)"/>
<rect x="846.17" y="523.72" width="46.28" height="18.52" fill="rgb(0,100,0)"/>
<rect x="892.15" y="523.72" width="46.28" height="18.52" fill="rgb(105,0,0)"/>
<rect x="938.13" y="523.72" width="46.28" height="18.52" fill="rgb(125,0,0)"/>
<rect x="984.12" y="523.72" width="46.28" height="18.52" fill="rgb(215,0,0)"/>
<text class="t16" x="1036.4" y="538.5">PLA2G12A</text>
<rect x="754.20" y="541.94" width="46.28" height="18.52" fill="rgb(0,230,0)"/>
<rect x="800.18" y="541.94" width="46.28" height="18.52" fill="rgb(0,125,0)"/>
<rect x="846.17" y="541.94" width="46.28" height="18.52" fill="rgb(0,85,0)"/>
<rect x="892.15" y="541.94" width="46.28" height="18.52" fill="rgb(115,0,0)"/>
<rect x="938.13" y="541.94" width="46.28" height="18.52" fill="rgb(130,0,0)"/>
<rect x="984.12" y="541.94" width="46.28" height="18.52" fill="rgb(200,0,0)"/>
<text class="t16" x="1036.4" y="556.8">BRWD1</text>
<rect x="754.20" y="560.16" width="46.28" height="18.52" fill="rgb(0,190,0)"/>
<rect x="800.18" y="560.16" width="46.28" height="18.52" fill="rgb(0,140,0)"/>
<rect x="846.17" y="560.16" width="46.28" height="18.52" fill="rgb(0,110,0)"/>
<rect x="892.15" y="560.16" width="46.28" height="18.52" fill="rgb(90,0,0)"/>
<rect x="938.13" y="560.16" width="46.28" height="18.52" fill="rgb(160,0,0)"/>
<rect x="984.12" y="560.16" width="46.28" height="18.52" fill="rgb(215,0,0)"/>
<text class="t16" x="1036.4" y="575.0">PPP1R9A</text>
<rect x="754.20" y="578.38" width="46.28" height="18.52" fill="rgb(0,185,0)"/>
<rect x="800.18" y="578.38" width="46.28" height="18.52" fill="rgb(0,160,0)"/>
<rect x="846.17" y="578.38" width="46.28" height="18.52" fill="rgb(0,95,0)"/>
<rect x="892.15" y="578.38" width="46.28" height="18.52" fill="rgb(115,0,0)"/>
<rect x="938.13" y="578.38" width="46.28" height="18.52" fill="rgb(120,0,0)"/>
<rect x="984.12" y="578.38" width="46.28" height="18.52" fill="rgb(225,0,0)"/>
<text class="t16" x="1036.4" y="593.2">HDAC2</text>
<rect x="754.20" y="596.60" width="46.28" height="18.52" fill="rgb(0,195,0)"/>
<rect x="800.18" y="596.60" width="46.28" height="18.52" fill="rgb(0,160,0)"/>
<rect x="846.17" y="596.60" width="46.28" height="18.52" fill="rgb(0,70,0)"/>
<rect x="892.15" y="596.60" width="46.28" height="18.52" fill="rgb(90,0,0)"/>
<rect x="938.13" y="596.60" width="46.28" height="18.52" fill="rgb(125,0,0)"/>
<rect x="984.12" y="596.60" width="46.28" height="18.52" fill="rgb(235,0,0)"/>
<text class="t16" x="1036.4" y="611.4">MAFG</text>
<rect x="754.20" y="614.82" width="46.28" height="18.52" fill="rgb(0,205,0)"/>
<rect x="800.18" y="614.82" width="46.28" height="18.52" fill="rgb(0,160,0)"/>
<rect x="846.17" y="614.82" width="46.28" height="18.52" fill="rgb(0,50,0)"/>
<rect x="892.15" y="614.82" width="46.28" height="18.52" fill="rgb(100,0,0)"/>
<rect x="938.13" y="614.82" width="46.28" height="18.52" fill="rgb(110,0,0)"/>
<rect x="984.12" y="614.82" width="46.28" height="18.52" fill="rgb(245,0,0)"/>
<text class="t16" x="1036.4" y="629.6">ZNF260</text>
<rect x="754.20" y="633.04" width="46.28" height="18.52" fill="rgb(0,230,0)"/>
<rect x="800.18" y="633.04" width="46.28" height="18.52" fill="rgb(0,140,0)"/>
<rect x="846.17" y="633.04" width="46.28" height="18.52" fill="rgb(0,60,0)"/>
<rect x="892.15" y="633.04" width="46.28" height="18.52" fill="rgb(170,0,0)"/>
<rect x="938.13" y="633.04" width="46.28" height="18.52" fill="rgb(150,0,0)"/>
<rect x="984.12" y="633.04" width="46.28" height="18.52" fill="rgb(110,0,0)"/>
<text class="t16" x="1036.4" y="647.9">IGF1R</text>
<rect x="754.20" y="651.26" width="46.28" height="18.52" fill="rgb(0,220,0)"/>
<rect x="800.18" y="651.26" width="46.28" height="18.52" fill="rgb(0,110,0)"/>
<rect x="846.17" y="651.26" width="46.28" height="18.52" fill="rgb(0,90,0)"/>
<rect x="892.15" y="651.26" width="46.28" height="18.52" fill="rgb(160,0,0)"/>
<rect x="938.13" y="651.26" width="46.28" height="18.52" fill="rgb(140,0,0)"/>
<rect x="984.12" y="651.26" width="46.28" height="18.52" fill="rgb(150,0,0)"/>
<text class="t16" x="1036.4" y="666.1">ATP9A</text>
<rect x="754.20" y="669.48" width="46.28" height="18.52" fill="rgb(0,185,0)"/>
<rect x="800.18" y="669.48" width="46.28" height="18.52" fill="rgb(0,125,0)"/>
<rect x="846.17" y="669.48" width="46.28" height="18.52" fill="rgb(0,135,0)"/>
<rect x="892.15" y="669.48" width="46.28" height="18.52" fill="rgb(155,0,0)"/>
<rect x="938.13" y="669.48" width="46.28" height="18.52" fill="rgb(190,0,0)"/>
<rect x="984.12" y="669.48" width="46.28" height="18.52" fill="rgb(130,0,0)"/>
<text class="t16" x="1036.4" y="684.3">INSR</text>
<rect x="754.20" y="687.70" width="46.28" height="18.52" fill="rgb(0,250,0)"/>
<rect x="800.18" y="687.70" width="46.28" height="18.52" fill="rgb(0,40,0)"/>
<rect x="846.17" y="687.70" width="46.28" height="18.52" fill="rgb(0,50,0)"/>
<rect x="892.15" y="687.70" width="46.28" height="18.52" fill="rgb(88,0,0)"/>
<rect x="938.13" y="687.70" width="46.28" height="18.52" fill="rgb(170,0,0)"/>
<rect x="984.12" y="687.70" width="46.28" height="18.52" fill="rgb(150,0,0)"/>
<text class="t16" x="1036.4" y="702.5">ZNF250</text>
<rect x="754.20" y="705.92" width="46.28" height="18.52" fill="rgb(0,250,0)"/>
<rect x="800.18" y="705.92" width="46.28" height="18.52" fill="rgb(0,25,0)"/>
<rect x="846.17" y="705.92" width="46.28" height="18.52" fill="rgb(0,70,0)"/>
<rect x="892.15" y="705.92" width="46.28" height="18.52" fill="rgb(135,0,0)"/>
<rect x="938.13" y="705.92" width="46.28" height="18.52" fill="rgb(125,0,0)"/>
<rect x="984.12" y="705.92" width="46.28" height="18.52" fill="rgb(128,0,0)"/>
<text class="t16" x="1036.4" y="720.7">AGPS</text>
<rect x="754.20" y="724.14" width="46.28" height="18.52" fill="rgb(0,250,0)"/>
<rect x="800.18" y="724.14" width="46.28" height="18.52" fill="rgb(0,20,0)"/>
<rect x="846.17" y="724.14" width="46.28" height="18.52" fill="rgb(0,70,0)"/>
<rect x="892.15" y="724.14" width="46.28" height="18.52" fill="rgb(135,0,0)"/>
<rect x="938.13" y="724.14" width="46.28" height="18.52" fill="rgb(110,0,0)"/>
<rect x="984.12" y="724.14" width="46.28" height="18.52" fill="rgb(150,0,0)"/>
<text class="t16" x="1036.4" y="739.0">CBFA2T2</text>
<rect x="754.20" y="742.36" width="46.28" height="18.52" fill="rgb(0,250,0)"/>
<rect x="800.18" y="742.36" width="46.28" height="18.52" fill="rgb(0,60,0)"/>
<rect x="846.17" y="742.36" width="46.28" height="18.52" fill="rgb(0,40,0)"/>
<rect x="892.15" y="742.36" width="46.28" height="18.52" fill="rgb(155,0,0)"/>
<rect x="938.13" y="742.36" width="46.28" height="18.52" fill="rgb(150,0,0)"/>
<rect x="984.12" y="742.36" width="46.28" height="18.52" fill="rgb(85,0,0)"/>
<text class="t16" x="1036.4" y="757.2">MACF1</text>
<rect x="754.20" y="760.58" width="46.28" height="18.52" fill="rgb(0,250,0)"/>
<rect x="800.18" y="760.58" width="46.28" height="18.52" fill="rgb(0,110,0)"/>
<rect x="846.17" y="760.58" width="46.28" height="18.52" fill="rgb(0,10,0)"/>
<rect x="892.15" y="760.58" width="46.28" height="18.52" fill="rgb(140,0,0)"/>
<rect x="938.13" y="760.58" width="46.28" height="18.52" fill="rgb(180,0,0)"/>
<rect x="984.12" y="760.58" width="46.28" height="18.52" fill="rgb(90,0,0)"/>
<text class="t16" x="1036.4" y="775.4">ZNF654</text>
<rect x="754.20" y="778.80" width="46.28" height="18.52" fill="rgb(0,250,0)"/>
<rect x="800.18" y="778.80" width="46.28" height="18.52" fill="rgb(0,140,0)"/>
<rect x="846.17" y="778.80" width="46.28" height="18.52" fill="rgb(12,0,0)"/>
<rect x="892.15" y="778.80" width="46.28" height="18.52" fill="rgb(138,0,0)"/>
<rect x="938.13" y="778.80" width="46.28" height="18.52" fill="rgb(138,0,0)"/>
<rect x="984.12" y="778.80" width="46.28" height="18.52" fill="rgb(120,0,0)"/>
<text class="t16" x="1036.4" y="793.6">ZNF264</text>
<rect x="754.20" y="797.02" width="46.28" height="18.52" fill="rgb(0,250,0)"/>
<rect x="800.18" y="797.02" width="46.28" height="18.52" fill="rgb(0,150,0)"/>
<rect x="846.17" y="797.02" width="46.28" height="18.52" fill="rgb(20,0,0)"/>
<rect x="892.15" y="797.02" width="46.28" height="18.52" fill="rgb(135,0,0)"/>
<rect x="938.13" y="797.02" width="46.28" height="18.52" fill="rgb(120,0,0)"/>
<rect x="984.12" y="797.02" width="46.28" height="18.52" fill="rgb(135,0,0)"/>
<text class="t16" x="1036.4" y="811.8">AKT3</text>
<rect x="754.20" y="815.24" width="46.28" height="18.52" fill="rgb(0,250,0)"/>
<rect x="800.18" y="815.24" width="46.28" height="18.52" fill="rgb(0,150,0)"/>
<rect x="846.17" y="815.24" width="46.28" height="18.52" fill="rgb(0,10,0)"/>
<rect x="892.15" y="815.24" width="46.28" height="18.52" fill="rgb(160,0,0)"/>
<rect x="938.13" y="815.24" width="46.28" height="18.52" fill="rgb(118,0,0)"/>
<rect x="984.12" y="815.24" width="46.28" height="18.52" fill="rgb(138,0,0)"/>
<text class="t16" x="1036.4" y="830.1">ZADH2</text>
<rect x="754.20" y="833.46" width="46.28" height="18.52" fill="rgb(0,245,0)"/>
<rect x="800.18" y="833.46" width="46.28" height="18.52" fill="rgb(0,150,0)"/>
<rect x="846.17" y="833.46" width="46.28" height="18.52" fill="rgb(0,40,0)"/>
<rect x="892.15" y="833.46" width="46.28" height="18.52" fill="rgb(140,0,0)"/>
<rect x="938.13" y="833.46" width="46.28" height="18.52" fill="rgb(118,0,0)"/>
<rect x="984.12" y="833.46" width="46.28" height="18.52" fill="rgb(175,0,0)"/>
<text class="t16" x="1036.4" y="848.3">NDUFB2</text>
<rect x="754.20" y="851.68" width="46.28" height="18.52" fill="rgb(0,250,0)"/>
<rect x="800.18" y="851.68" width="46.28" height="18.52" fill="rgb(0,100,0)"/>
<rect x="846.17" y="851.68" width="46.28" height="18.52" fill="rgb(0,35,0)"/>
<rect x="892.15" y="851.68" width="46.28" height="18.52" fill="rgb(130,0,0)"/>
<rect x="938.13" y="851.68" width="46.28" height="18.52" fill="rgb(128,0,0)"/>
<rect x="984.12" y="851.68" width="46.28" height="18.52" fill="rgb(160,0,0)"/>
<text class="t16" x="1036.4" y="866.5">NSMAF</text>
<rect x="754.20" y="869.90" width="46.28" height="18.52" fill="rgb(0,250,0)"/>
<rect x="800.18" y="869.90" width="46.28" height="18.52" fill="rgb(0,80,0)"/>
<rect x="846.17" y="869.90" width="46.28" height="18.52" fill="rgb(0,35,0)"/>
<rect x="892.15" y="869.90" width="46.28" height="18.52" fill="rgb(140,0,0)"/>
<rect x="938.13" y="869.90" width="46.28" height="18.52" fill="rgb(50,0,0)"/>
<rect x="984.12" y="869.90" width="46.28" height="18.52" fill="rgb(200,0,0)"/>
<text class="t16" x="1036.4" y="884.7">SLMO1</text>
<rect x="754.20" y="888.12" width="46.28" height="18.52" fill="rgb(0,250,0)"/>
<rect x="800.18" y="888.12" width="46.28" height="18.52" fill="rgb(0,130,0)"/>
<rect x="846.17" y="888.12" width="46.28" height="18.52" fill="rgb(15,0,0)"/>
<rect x="892.15" y="888.12" width="46.28" height="18.52" fill="rgb(110,0,0)"/>
<rect x="938.13" y="888.12" width="46.28" height="18.52" fill="rgb(55,0,0)"/>
<rect x="984.12" y="888.12" width="46.28" height="18.52" fill="rgb(205,0,0)"/>
<text class="t16" x="1036.4" y="902.9">ARHGAP26</text>
<rect x="754.20" y="906.34" width="46.28" height="18.52" fill="rgb(0,250,0)"/>
<rect x="800.18" y="906.34" width="46.28" height="18.52" fill="rgb(0,30,0)"/>
<rect x="846.17" y="906.34" width="46.28" height="18.52" fill="rgb(0,115,0)"/>
<rect x="892.15" y="906.34" width="46.28" height="18.52" fill="rgb(185,0,0)"/>
<rect x="938.13" y="906.34" width="46.28" height="18.52" fill="rgb(35,0,0)"/>
<rect x="984.12" y="906.34" width="46.28" height="18.52" fill="rgb(190,0,0)"/>
<text class="t16" x="1036.4" y="921.2">MBOAT2</text>
<rect x="754.20" y="924.56" width="46.28" height="18.52" fill="rgb(0,250,0)"/>
<rect x="800.18" y="924.56" width="46.28" height="18.52" fill="rgb(0,35,0)"/>
<rect x="846.17" y="924.56" width="46.28" height="18.52" fill="rgb(0,115,0)"/>
<rect x="892.15" y="924.56" width="46.28" height="18.52" fill="rgb(225,0,0)"/>
<rect x="938.13" y="924.56" width="46.28" height="18.52" fill="rgb(90,0,0)"/>
<rect x="984.12" y="924.56" width="46.28" height="18.52" fill="rgb(110,0,0)"/>
<text class="t16" x="1036.4" y="939.4">WDR5B</text>
<rect x="754.20" y="942.78" width="46.28" height="18.52" fill="rgb(0,250,0)"/>
<rect x="800.18" y="942.78" width="46.28" height="18.52" fill="rgb(0,40,0)"/>
<rect x="846.17" y="942.78" width="46.28" height="18.52" fill="rgb(0,105,0)"/>
<rect x="892.15" y="942.78" width="46.28" height="18.52" fill="rgb(190,0,0)"/>
<rect x="938.13" y="942.78" width="46.28" height="18.52" fill="rgb(140,0,0)"/>
<rect x="984.12" y="942.78" width="46.28" height="18.52" fill="rgb(110,0,0)"/>
<text class="t16" x="1036.4" y="957.6">PHC3</text>
<rect x="754.20" y="961.00" width="46.28" height="18.52" fill="rgb(0,130,0)"/>
<rect x="800.18" y="961.00" width="46.28" height="18.52" fill="rgb(0,250,0)"/>
<rect x="846.17" y="961.00" width="46.28" height="18.52" fill="rgb(0,25,0)"/>
<rect x="892.15" y="961.00" width="46.28" height="18.52" fill="rgb(125,0,0)"/>
<rect x="938.13" y="961.00" width="46.28" height="18.52" fill="rgb(80,0,0)"/>
<rect x="984.12" y="961.00" width="46.28" height="18.52" fill="rgb(200,0,0)"/>
<text class="t16" x="1036.4" y="975.8">TSC1</text>
<rect x="754.20" y="979.22" width="46.28" height="18.52" fill="rgb(0,160,0)"/>
<rect x="800.18" y="979.22" width="46.28" height="18.52" fill="rgb(0,250,0)"/>
<rect x="846.17" y="979.22" width="46.28" height="18.52" fill="rgb(0,0,0)"/>
<rect x="892.15" y="979.22" width="46.28" height="18.52" fill="rgb(105,0,0)"/>
<rect x="938.13" y="979.22" width="46.28" height="18.52" fill="rgb(135,0,0)"/>
<rect x="984.12" y="979.22" width="46.28" height="18.52" fill="rgb(162,0,0)"/>
<text class="t16" x="1036.4" y="994.0">CRTC1</text>
<rect x="754.20" y="997.44" width="46.28" height="18.52" fill="rgb(0,150,0)"/>
<rect x="800.18" y="997.44" width="46.28" height="18.52" fill="rgb(0,250,0)"/>
<rect x="846.17" y="997.44" width="46.28" height="18.52" fill="rgb(15,0,0)"/>
<rect x="892.15" y="997.44" width="46.28" height="18.52" fill="rgb(105,0,0)"/>
<rect x="938.13" y="997.44" width="46.28" height="18.52" fill="rgb(122,0,0)"/>
<rect x="984.12" y="997.44" width="46.28" height="18.52" fill="rgb(162,0,0)"/>
<text class="t16" x="1036.4" y="1012.3">POU2F1</text>
<rect x="754.20" y="1015.66" width="46.28" height="18.52" fill="rgb(0,110,0)"/>
<rect x="800.18" y="1015.66" width="46.28" height="18.52" fill="rgb(0,250,0)"/>
<rect x="846.17" y="1015.66" width="46.28" height="18.52" fill="rgb(10,0,0)"/>
<rect x="892.15" y="1015.66" width="46.28" height="18.52" fill="rgb(125,0,0)"/>
<rect x="938.13" y="1015.66" width="46.28" height="18.52" fill="rgb(125,0,0)"/>
<rect x="984.12" y="1015.66" width="46.28" height="18.52" fill="rgb(140,0,0)"/>
<text class="t16" x="1036.4" y="1030.5">NIPA1</text>
<rect x="754.20" y="1033.88" width="46.28" height="18.52" fill="rgb(0,150,0)"/>
<rect x="800.18" y="1033.88" width="46.28" height="18.52" fill="rgb(0,250,0)"/>
<rect x="846.17" y="1033.88" width="46.28" height="18.52" fill="rgb(15,0,0)"/>
<rect x="892.15" y="1033.88" width="46.28" height="18.52" fill="rgb(160,0,0)"/>
<rect x="938.13" y="1033.88" width="46.28" height="18.52" fill="rgb(170,0,0)"/>
<rect x="984.12" y="1033.88" width="46.28" height="18.52" fill="rgb(85,0,0)"/>
<text class="t16" x="1036.4" y="1048.7">PRKCA</text>
<rect x="754.20" y="1052.10" width="46.28" height="18.52" fill="rgb(0,218,0)"/>
<rect x="800.18" y="1052.10" width="46.28" height="18.52" fill="rgb(0,172,0)"/>
<rect x="846.17" y="1052.10" width="46.28" height="18.52" fill="rgb(0,50,0)"/>
<rect x="892.15" y="1052.10" width="46.28" height="18.52" fill="rgb(148,0,0)"/>
<rect x="938.13" y="1052.10" width="46.28" height="18.52" fill="rgb(140,0,0)"/>
<rect x="984.12" y="1052.10" width="46.28" height="18.52" fill="rgb(160,0,0)"/>
<text class="t16" x="1036.4" y="1066.9">SNX13</text>
<rect x="754.20" y="1070.32" width="46.28" height="18.52" fill="rgb(0,185,0)"/>
<rect x="800.18" y="1070.32" width="46.28" height="18.52" fill="rgb(0,195,0)"/>
<rect x="846.17" y="1070.32" width="46.28" height="18.52" fill="rgb(0,70,0)"/>
<rect x="892.15" y="1070.32" width="46.28" height="18.52" fill="rgb(140,0,0)"/>
<rect x="938.13" y="1070.32" width="46.28" height="18.52" fill="rgb(130,0,0)"/>
<rect x="984.12" y="1070.32" width="46.28" height="18.52" fill="rgb(180,0,0)"/>
<text class="t16" x="1036.4" y="1085.1">BNIP2</text>
<rect x="754.20" y="1088.54" width="46.28" height="18.52" fill="rgb(0,185,0)"/>
<rect x="800.18" y="1088.54" width="46.28" height="18.52" fill="rgb(0,230,0)"/>
<rect x="846.17" y="1088.54" width="46.28" height="18.52" fill="rgb(0,25,0)"/>
<rect x="892.15" y="1088.54" width="46.28" height="18.52" fill="rgb(140,0,0)"/>
<rect x="938.13" y="1088.54" width="46.28" height="18.52" fill="rgb(155,0,0)"/>
<rect x="984.12" y="1088.54" width="46.28" height="18.52" fill="rgb(140,0,0)"/>
<text class="t16" x="1036.4" y="1103.4">HIPK1</text>
<rect x="754.20" y="1106.76" width="46.28" height="18.52" fill="rgb(0,185,0)"/>
<rect x="800.18" y="1106.76" width="46.28" height="18.52" fill="rgb(0,235,0)"/>
<rect x="846.17" y="1106.76" width="46.28" height="18.52" fill="rgb(0,5,0)"/>
<rect x="892.15" y="1106.76" width="46.28" height="18.52" fill="rgb(135,0,0)"/>
<rect x="938.13" y="1106.76" width="46.28" height="18.52" fill="rgb(135,0,0)"/>
<rect x="984.12" y="1106.76" width="46.28" height="18.52" fill="rgb(160,0,0)"/>
<text class="t16" x="1036.4" y="1121.6">XIAP</text>
<rect x="754.20" y="1124.98" width="46.28" height="18.52" fill="rgb(0,230,0)"/>
<rect x="800.18" y="1124.98" width="46.28" height="18.52" fill="rgb(0,200,0)"/>
<rect x="846.17" y="1124.98" width="46.28" height="18.52" fill="rgb(0,0,0)"/>
<rect x="892.15" y="1124.98" width="46.28" height="18.52" fill="rgb(120,0,0)"/>
<rect x="938.13" y="1124.98" width="46.28" height="18.52" fill="rgb(140,0,0)"/>
<rect x="984.12" y="1124.98" width="46.28" height="18.52" fill="rgb(165,0,0)"/>
<text class="t16" x="1036.4" y="1139.8">FGD6</text>
<rect x="754.20" y="1143.20" width="46.28" height="18.52" fill="rgb(0,235,0)"/>
<rect x="800.18" y="1143.20" width="46.28" height="18.52" fill="rgb(0,205,0)"/>
<rect x="846.17" y="1143.20" width="46.28" height="18.52" fill="rgb(20,0,0)"/>
<rect x="892.15" y="1143.20" width="46.28" height="18.52" fill="rgb(125,0,0)"/>
<rect x="938.13" y="1143.20" width="46.28" height="18.52" fill="rgb(130,0,0)"/>
<rect x="984.12" y="1143.20" width="46.28" height="18.52" fill="rgb(160,0,0)"/>
<text class="t16" x="1036.4" y="1158.0">MXRA7</text>
<rect x="754.20" y="1161.42" width="46.28" height="18.52" fill="rgb(0,245,0)"/>
<rect x="800.18" y="1161.42" width="46.28" height="18.52" fill="rgb(0,175,0)"/>
<rect x="846.17" y="1161.42" width="46.28" height="18.52" fill="rgb(35,0,0)"/>
<rect x="892.15" y="1161.42" width="46.28" height="18.52" fill="rgb(130,0,0)"/>
<rect x="938.13" y="1161.42" width="46.28" height="18.52" fill="rgb(110,0,0)"/>
<rect x="984.12" y="1161.42" width="46.28" height="18.52" fill="rgb(170,0,0)"/>
<text class="t16" x="1036.4" y="1176.2">SH3GLB1</text>
<rect x="754.20" y="1179.64" width="46.28" height="18.52" fill="rgb(0,235,0)"/>
<rect x="800.18" y="1179.64" width="46.28" height="18.52" fill="rgb(0,220,0)"/>
<rect x="846.17" y="1179.64" width="46.28" height="18.52" fill="rgb(50,0,0)"/>
<rect x="892.15" y="1179.64" width="46.28" height="18.52" fill="rgb(115,0,0)"/>
<rect x="938.13" y="1179.64" width="46.28" height="18.52" fill="rgb(145,0,0)"/>
<rect x="984.12" y="1179.64" width="46.28" height="18.52" fill="rgb(140,0,0)"/>
<text class="t16" x="1036.4" y="1194.5">EEF2K</text>
<rect x="754.20" y="1197.86" width="46.28" height="18.52" fill="rgb(0,235,0)"/>
<rect x="800.18" y="1197.86" width="46.28" height="18.52" fill="rgb(0,220,0)"/>
<rect x="846.17" y="1197.86" width="46.28" height="18.52" fill="rgb(35,0,0)"/>
<rect x="892.15" y="1197.86" width="46.28" height="18.52" fill="rgb(150,0,0)"/>
<rect x="938.13" y="1197.86" width="46.28" height="18.52" fill="rgb(145,0,0)"/>
<rect x="984.12" y="1197.86" width="46.28" height="18.52" fill="rgb(145,0,0)"/>
<text class="t16" x="1036.4" y="1212.7">STAT2</text>
<rect x="754.20" y="1216.08" width="46.28" height="18.52" fill="rgb(0,225,0)"/>
<rect x="800.18" y="1216.08" width="46.28" height="18.52" fill="rgb(0,215,0)"/>
<rect x="846.17" y="1216.08" width="46.28" height="18.52" fill="rgb(0,0,0)"/>
<rect x="892.15" y="1216.08" width="46.28" height="18.52" fill="rgb(80,0,0)"/>
<rect x="938.13" y="1216.08" width="46.28" height="18.52" fill="rgb(195,0,0)"/>
<rect x="984.12" y="1216.08" width="46.28" height="18.52" fill="rgb(155,0,0)"/>
<text class="t16" x="1036.4" y="1230.9">DNAJC21</text>
<rect x="754.20" y="1234.30" width="46.28" height="18.52" fill="rgb(0,240,0)"/>
<rect x="800.18" y="1234.30" width="46.28" height="18.52" fill="rgb(0,210,0)"/>
<rect x="846.17" y="1234.30" width="46.28" height="18.52" fill="rgb(20,0,0)"/>
<rect x="892.15" y="1234.30" width="46.28" height="18.52" fill="rgb(160,0,0)"/>
<rect x="938.13" y="1234.30" width="46.28" height="18.52" fill="rgb(150,0,0)"/>
<rect x="984.12" y="1234.30" width="46.28" height="18.52" fill="rgb(80,0,0)"/>
<text class="t16" x="1036.4" y="1249.1">MORC3</text>
<rect x="754.20" y="1252.52" width="46.28" height="18.52" fill="rgb(0,240,0)"/>
<rect x="800.18" y="1252.52" width="46.28" height="18.52" fill="rgb(0,205,0)"/>
<rect x="846.17" y="1252.52" width="46.28" height="18.52" fill="rgb(20,0,0)"/>
<rect x="892.15" y="1252.52" width="46.28" height="18.52" fill="rgb(160,0,0)"/>
<rect x="938.13" y="1252.52" width="46.28" height="18.52" fill="rgb(168,0,0)"/>
<rect x="984.12" y="1252.52" width="46.28" height="18.52" fill="rgb(62,0,0)"/>
<text class="t16" x="1036.4" y="1267.3">PRKD3</text>
<rect x="754.20" y="1270.74" width="46.28" height="18.52" fill="rgb(0,250,0)"/>
<rect x="800.18" y="1270.74" width="46.28" height="18.52" fill="rgb(0,135,0)"/>
<rect x="846.17" y="1270.74" width="46.28" height="18.52" fill="rgb(0,35,0)"/>
<rect x="892.15" y="1270.74" width="46.28" height="18.52" fill="rgb(160,0,0)"/>
<rect x="938.13" y="1270.74" width="46.28" height="18.52" fill="rgb(195,0,0)"/>
<rect x="984.12" y="1270.74" width="46.28" height="18.52" fill="rgb(50,0,0)"/>
<text class="t16" x="1036.4" y="1285.6">ST6GAL1</text>
<rect x="754.20" y="1288.96" width="46.28" height="18.52" fill="rgb(0,200,0)"/>
<rect x="800.18" y="1288.96" width="46.28" height="18.52" fill="rgb(0,155,0)"/>
<rect x="846.17" y="1288.96" width="46.28" height="18.52" fill="rgb(0,75,0)"/>
<rect x="892.15" y="1288.96" width="46.28" height="18.52" fill="rgb(222,0,0)"/>
<rect x="938.13" y="1288.96" width="46.28" height="18.52" fill="rgb(170,0,0)"/>
<rect x="984.12" y="1288.96" width="46.28" height="18.52" fill="rgb(20,0,0)"/>
<text class="t16" x="1036.4" y="1303.8">RICTOR</text>
<rect x="754.20" y="1307.18" width="46.28" height="18.52" fill="rgb(0,235,0)"/>
<rect x="800.18" y="1307.18" width="46.28" height="18.52" fill="rgb(0,100,0)"/>
<rect x="846.17" y="1307.18" width="46.28" height="18.52" fill="rgb(0,50,0)"/>
<rect x="892.15" y="1307.18" width="46.28" height="18.52" fill="rgb(250,0,0)"/>
<rect x="938.13" y="1307.18" width="46.28" height="18.52" fill="rgb(110,0,0)"/>
<rect x="984.12" y="1307.18" width="46.28" height="18.52" fill="rgb(0,0,0)"/>
<text class="t16" x="1036.4" y="1322.0">PM20D2</text>
</g>
<rect x="1030.4" y="576.3" width="79.8" height="19.6" fill="none" stroke="#ff0000" stroke-width="3.8" stroke-linejoin="round"/>
<rect x="755.4" y="1340.3" width="274.7" height="14.4" fill="url(#cbar)"/>
<text class="t16" x="757.5" y="1374.3">−1.5</text>
<text class="t16" text-anchor="middle" x="892" y="1374.3">0.0</text>
<text class="t16" text-anchor="end" x="1022" y="1374.3">1.5</text>
<path class="den" transform="translate(0 0.5)" d="M754.2 241.3H702.8V259.5H754.2M754.2 296.0H736.0V314.2H754.2M736.0 305.1H731.5V332.4H754.2M754.2 277.8H729.6V318.7H731.5M754.2 350.6H742.6V368.9H754.2M742.6 359.7H732.4V387.1H754.2M729.6 298.2H720.5V373.4H732.4M720.5 335.8H712.1V405.3H754.2M702.8 250.4H688.2V370.6H712.1M688.2 310.5H673.6V423.5H754.2M754.2 441.7H723.2V460.0H754.2M723.2 450.8H705.7V478.2H754.2M754.2 532.8H746.3V551.0H754.2M754.2 514.6H734.4V541.9H746.3M754.2 605.7H744.7V623.9H754.2M754.2 587.5H738.0V614.8H744.7M754.2 569.3H733.6V601.2H738.0M734.4 528.3H729.6V585.2H733.6M754.2 496.4H720.5V556.7H729.6M754.2 642.2H733.2V660.4H754.2M733.2 651.3H724.8V678.6H754.2M720.5 526.6H714.0V664.9H724.8M754.2 715.0H743.6V733.2H754.2M754.2 696.8H731.5V724.1H743.6M754.2 751.5H732.4V769.7H754.2M731.5 710.5H723.2V760.6H732.4M754.2 787.9H745.5V806.1H754.2M745.5 797.0H741.8V824.4H754.2M754.2 842.6H735.5V860.8H754.2M741.8 810.7H733.6V851.7H735.5M754.2 879.0H732.4V897.2H754.2M733.6 831.2H721.3V888.1H732.4M723.2 735.5H711.3V859.7H721.3M754.2 933.7H729.6V951.9H754.2M754.2 915.5H718.4V942.8H729.6M711.3 797.6H704.6V929.1H718.4M714.0 595.7H700.6V863.4H704.6M705.7 464.5H692.7V729.5H700.6M754.2 988.3H744.7V1006.6H754.2M744.7 997.4H736.4V1024.8H754.2M736.4 1011.1H728.8V1043.0H754.2M754.2 970.1H718.4V1027.0H728.8M754.2 1061.2H740.7V1079.4H754.2M754.2 1097.7H741.5V1115.9H754.2M740.7 1070.3H731.5V1106.8H741.5M754.2 1134.1H744.7V1152.3H754.2M744.7 1143.2H739.9V1170.5H754.2M754.2 1188.8H739.9V1207.0H754.2M739.9 1156.9H733.6V1197.9H739.9M731.5 1088.5H725.1V1177.4H733.6M725.1 1133.0H723.2V1225.2H754.2M718.4 998.6H713.3V1179.1H723.2M754.2 1243.4H747.1V1261.6H754.2M747.1 1252.5H726.9V1279.9H754.2M754.2 1298.1H726.9V1316.3H754.2M726.9 1266.2H710.5V1307.2H726.9M713.3 1088.8H689.8V1286.7H710.5M692.7 597.0H677.1V1187.8H689.8M673.6 367.0H662.4V892.4H677.1"/>
<path class="den" d="M777.2 232.2V194.5H823.2V232.2M800.2 194.5V179.6H869.2V232.2M915.1 232.2V211.5H961.1V232.2M938.1 211.5V203.0H1007.1V232.2M834.7 179.6V141.3H972.6V203.0"/>
<path d="M665.5 207.7V212.9H759.2V207.7M713.4 207.7V212.9" stroke="#000" stroke-width="1.2" fill="none"/>
<text class="t16" transform="translate(671.3 200.5) rotate(-90)">1.6827683</text>
<text class="t16" transform="translate(719.3 200.5) rotate(-90)">0.8413842</text>
<text class="t16" transform="translate(764.8 200.5) rotate(-90)">0.0</text>
<path d="M1047.7 139.4H1042.4V228.7H1047.7M1042.4 185.2H1047.7" stroke="#000" stroke-width="1.2" fill="none"/>
<text class="t16" x="1052.7" y="144.3">12.755119</text>
<text class="t16" x="1052.7" y="188.9">6.3775597</text>
<text class="t16" x="1052.7" y="229.5">0.0</text>
<text class="t16" transform="translate(792.4 118) rotate(-90)">Lv-miR-2</text>
<text class="t16" transform="translate(831.4 118) rotate(-90)">Lv-miR-3</text>
<text class="t16" transform="translate(874.6 118) rotate(-90)">Lv-miR-1</text>
<text class="t16" transform="translate(924.9 119.6) rotate(-90)">Lv-NC-2</text>
<text class="t16" transform="translate(968.7 119.6) rotate(-90)">Lv-NC-3</text>
<text class="t16" transform="translate(1015.6 118.5) rotate(-90)">Lv-NC-1</text>
</g>
</svg></body></html>
